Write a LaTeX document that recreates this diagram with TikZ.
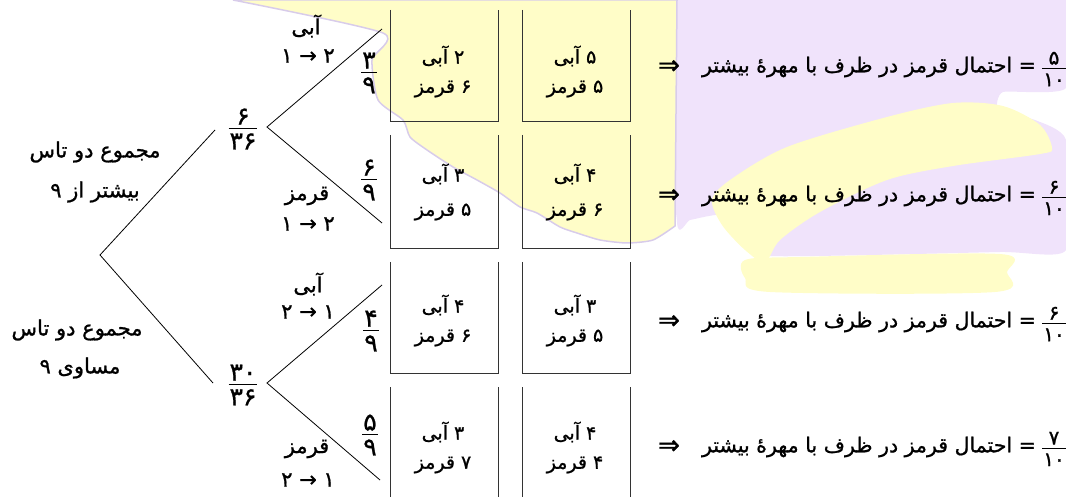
\documentclass[tikz,border=0pt]{standalone}
\usepackage{fontspec}
\newfontfamily\af[Script=Arabic, FakeBold=1]{DejaVu Sans}
\TeXXeTstate=1
\newcommand\rtl[1]{\beginR #1\endR}
% stacked fraction: numerator, rule, denominator
\newcommand\pfrac[2]{\vbox{\halign{\hskip1pt\hfil##\hfil\hskip1pt\cr #1\cr\noalign{\kern3pt\hrule height0.8pt\kern5pt}#2\cr}}}
\definecolor{wmyellow}{RGB}{255,253,200}
\definecolor{wmlav}{RGB}{240,227,251}
\definecolor{wmedge}{RGB}{216,204,234}
\tikzset{
  txt/.style={font=\af\fontsize{21}{24}\selectfont, inner sep=0pt},
  boxtxt/.style={font=\af\fontsize{19}{22}\selectfont, inner sep=0pt},
  eqtxt/.style={font=\af\fontsize{20.5}{24}\selectfont, inner sep=0pt},
  imp/.style={font=\af\fontsize{26}{28}\selectfont, inner sep=0pt},
  fr/.style={font=\af\fontsize{25}{27}\selectfont, inner sep=0pt},
  frr/.style={font=\af\fontsize{20}{22}\selectfont, inner sep=0pt},
  branch/.style={line width=0.8pt},
  jarline/.style={line width=0.8pt, black!80},
}
\newcommand\jar[4]{\draw[jarline] (#1,#3) -- (#1,#4) -- (#2,#4) -- (#2,#3);}
\begin{document}
\begin{tikzpicture}[x=1pt,y=-1pt]
\useasboundingbox (0,0) rectangle (1066,497);
% faint background logo
\fill[wmlav] plot[smooth cycle, tension=0.3] coordinates {(677,0) (1066,0) (1066,88) (1003,92) (998,110) (1035,120) (1066,140) (1066,250) (1000,252) (770,256) (745,235) (720,215) (690,220) (677,222)};
\fill[wmyellow] plot[smooth cycle, tension=0.5] coordinates {(712,200) (730,180) (787,147) (887,117) (953,103) (1003,106) (1040,125) (1052,148) (1040,154) (953,166) (887,180) (820,212) (780,240) (765,262) (745,250) (722,225)};
\fill[wmyellow] plot[smooth cycle, tension=0.5] coordinates {(745,260) (800,257) (1000,254) (1007,272) (995,292) (770,292) (745,278)};
\filldraw[fill=wmyellow, draw=wmedge, line width=1.5pt] plot[smooth, tension=0.4] coordinates {(233,0) (383,33) (372,60) (378,100) (403,120) (410,137) (427,150) (453,167) (477,180) (500,193) (520,207) (537,213) (560,227) (577,233) (600,240) (627,243) (653,240) (675,226)} -- (677,0) -- cycle;

% tree
\coordinate (root) at (100,255);
\coordinate (u1) at (215,130);
\coordinate (u2) at (213,383);
\coordinate (v1) at (267,127);
\coordinate (v2) at (267,383);
\coordinate (e11) at (382,29);
\coordinate (e12) at (382,223);
\coordinate (e21) at (382,285);
\coordinate (e22) at (380,480);
\draw[branch] (u1) -- (root) -- (u2);
\draw[branch] (e11) -- (v1) -- (e12);
\draw[branch] (e21) -- (v2) -- (e22);

\node[fr] (f1) at (243,129) {\pfrac{۶}{۳۶}};
\node[fr] (f2) at (243,385) {\pfrac{۳۰}{۳۶}};
\node[fr] (g11) at (369,73) {\pfrac{۳}{۹}};
\node[fr] (g12) at (369,180) {\pfrac{۶}{۹}};
\node[fr] (g21) at (371,331) {\pfrac{۴}{۹}};
\node[fr] (g22) at (370,435) {\pfrac{۵}{۹}};

\node[txt] (s1a) at (95,152) {\rtl{مجموع دو تاس}};
\node[txt] (s1b) at (95,192) {\rtl{بیشتر از ۹}};
\node[txt] (s2a) at (77,330) {\rtl{مجموع دو تاس}};
\node[txt] (s2b) at (80,368) {\rtl{مساوی ۹}};

\node[txt] (c11) at (306,26) {\rtl{آبی}};
\node[txt] (m11) at (308,56) {\rtl{۲ → ۱}};
\node[txt] (c12) at (307,196) {\rtl{قرمز}};
\node[txt] (m12) at (308,224) {\rtl{۲ → ۱}};
\node[txt] (c21) at (308,284) {\rtl{آبی}};
\node[txt] (m21) at (308,312) {\rtl{۱ → ۲}};
\node[txt] (c22) at (307,449) {\rtl{قرمز}};
\node[txt] (m22) at (308,480) {\rtl{۱ → ۲}};

% containers (open at the top)
\jar{390}{498}{10}{121}
\jar{522}{630}{10}{121}
\jar{390}{498}{135}{248}
\jar{522}{630}{135}{248}
\jar{390}{498}{262}{373}
\jar{522}{630}{262}{373}
\draw[jarline] (390,387) -- (390,497);
\draw[jarline] (498,387) -- (498,497);
\draw[jarline] (522,387) -- (522,497);
\draw[jarline] (630,387) -- (630,497);

\node[boxtxt] (b11a) at (443,56) {\rtl{۲ آبی}};
\node[boxtxt] (b11b) at (443,89) {\rtl{۶ قرمز}};
\node[boxtxt] (b12a) at (575,56) {\rtl{۵ آبی}};
\node[boxtxt] (b12b) at (575,89) {\rtl{۵ قرمز}};
\node[boxtxt] (b21a) at (443,174) {\rtl{۳ آبی}};
\node[boxtxt] (b21b) at (443,212) {\rtl{۵ قرمز}};
\node[boxtxt] (b22a) at (575,174) {\rtl{۴ آبی}};
\node[boxtxt] (b22b) at (575,212) {\rtl{۶ قرمز}};
\node[boxtxt] (b31a) at (443,305) {\rtl{۴ آبی}};
\node[boxtxt] (b31b) at (443,338) {\rtl{۶ قرمز}};
\node[boxtxt] (b32a) at (575,305) {\rtl{۳ آبی}};
\node[boxtxt] (b32b) at (575,338) {\rtl{۵ قرمز}};
\node[boxtxt] (b41a) at (443,432) {\rtl{۳ آبی}};
\node[boxtxt] (b41b) at (443,465) {\rtl{۷ قرمز}};
\node[boxtxt] (b42a) at (575,432) {\rtl{۴ آبی}};
\node[boxtxt] (b42b) at (575,465) {\rtl{۴ قرمز}};

% conclusions
\foreach \i/\y/\n in {1/67/۵, 2/196/۶, 3/322/۶, 4/447/۷} {
  \node[imp] (r\i) at (669,\y) {⇒};
  \node[eqtxt, anchor=east] (p\i) at (1036,\y) {\rtl{= احتمال قرمز در ظرف با مهرهٔ بیشتر}};
  \node[frr] (h\i) at (1054,\y+2) {\pfrac{\n}{۱۰}};
}
\end{tikzpicture}
\end{document}
